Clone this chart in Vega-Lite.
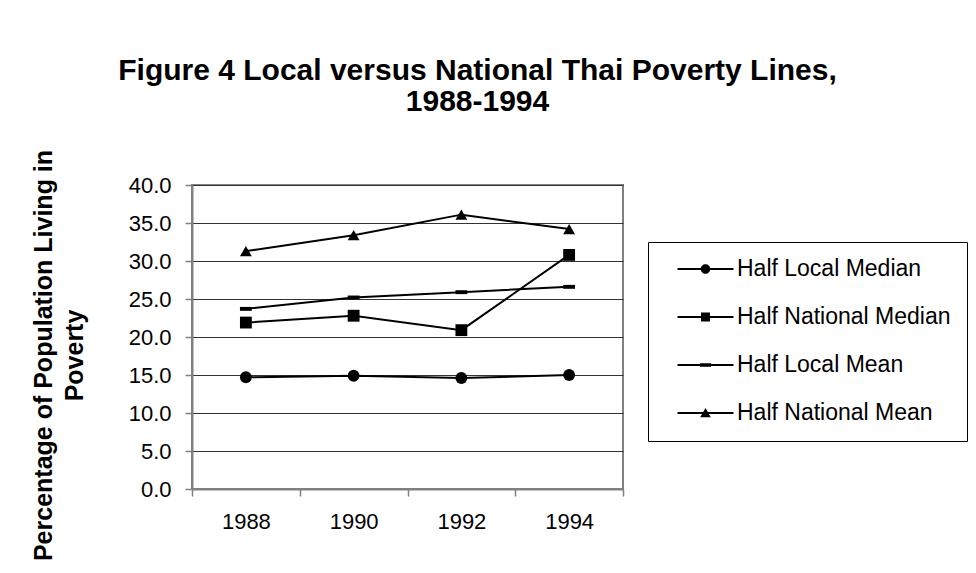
{
  "$schema": "https://vega.github.io/schema/vega-lite/v6.json",
  "width": 431,
  "height": 304,
  "autosize": {"type": "none"},
  "padding": {"left": 192, "top": 185, "right": 353, "bottom": 84},
  "background": "white",
  "title": {
    "text": ["Figure 4 Local versus National Thai Poverty Lines,", "1988-1994"],
    "font": "Liberation Sans",
    "fontSize": 30,
    "fontWeight": "bold",
    "color": "black",
    "anchor": "middle",
    "frame": "group",
    "dx": 70,
    "lineHeight": 31,
    "offset": 32
  },
  "data": {
    "values": [
      {"year": "1988", "series": "Half Local Median", "value": 14.7},
      {"year": "1990", "series": "Half Local Median", "value": 14.9},
      {"year": "1992", "series": "Half Local Median", "value": 14.6},
      {"year": "1994", "series": "Half Local Median", "value": 15.0},
      {"year": "1988", "series": "Half National Median", "value": 21.9},
      {"year": "1990", "series": "Half National Median", "value": 22.8},
      {"year": "1992", "series": "Half National Median", "value": 20.9},
      {"year": "1994", "series": "Half National Median", "value": 30.8},
      {"year": "1988", "series": "Half Local Mean", "value": 23.7},
      {"year": "1990", "series": "Half Local Mean", "value": 25.2},
      {"year": "1992", "series": "Half Local Mean", "value": 25.9},
      {"year": "1994", "series": "Half Local Mean", "value": 26.6},
      {"year": "1988", "series": "Half National Mean", "value": 31.3},
      {"year": "1990", "series": "Half National Mean", "value": 33.4},
      {"year": "1992", "series": "Half National Mean", "value": 36.1},
      {"year": "1994", "series": "Half National Mean", "value": 34.2}
    ]
  },
  "encoding": {
    "x": {
      "field": "year",
      "type": "ordinal",
      "scale": {"type": "band", "paddingInner": 0, "paddingOuter": 0},
      "axis": {
        "title": null,
        "labelAngle": 0,
        "tickBand": "extent",
        "grid": false,
        "domainColor": "#808080",
        "domainWidth": 2,
        "tickColor": "#808080",
        "tickWidth": 1.5,
        "tickSize": 7,
        "labelPadding": 15,
        "labelFont": "Liberation Sans",
        "labelFontSize": 22,
        "labelColor": "black"
      }
    },
    "y": {
      "field": "value",
      "type": "quantitative",
      "scale": {"domain": [0, 40], "nice": false, "zero": true},
      "axis": {
        "title": ["Percentage of Population Living in", "Poverty"],
        "titleFont": "Liberation Sans",
        "titleFontSize": 25,
        "titleFontWeight": "bold",
        "titleColor": "black",
        "titleLineHeight": 31,
        "titleX": -136,
        "titleY": 170,
        "values": [0, 5, 10, 15, 20, 25, 30, 35, 40],
        "format": ".1f",
        "grid": true,
        "gridColor": "#333333",
        "gridWidth": 1,
        "domainColor": "#808080",
        "domainWidth": 2,
        "tickColor": "#808080",
        "tickWidth": 1.5,
        "tickSize": 7,
        "labelPadding": 14,
        "labelFont": "Liberation Sans",
        "labelFontSize": 22,
        "labelColor": "black"
      }
    }
  },
  "layer": [
    {
      "mark": {"type": "line", "color": "black", "strokeWidth": 2},
      "encoding": {"detail": {"field": "series", "type": "nominal"}}
    },
    {
      "mark": {"type": "point", "filled": true, "color": "black", "opacity": 1, "size": 140},
      "encoding": {
        "shape": {
          "field": "series",
          "type": "nominal",
          "scale": {
            "domain": ["Half Local Median", "Half National Median", "Half Local Mean", "Half National Mean"],
            "range": ["circle", "square", "M-1,-0.33H1V0.33H-1Z", "triangle-up"]
          },
          "legend": null
        }
      }
    },
    {
      "mark": {"type": "point", "filled": true, "fill": "black", "stroke": "black", "strokeWidth": 1, "opacity": 1, "size": 0},
      "encoding": {
        "shape": {
          "field": "series",
          "type": "nominal",
          "scale": {
            "domain": ["Half Local Median", "Half National Median", "Half Local Mean", "Half National Mean"],
            "range": [
              "M-1,-0.036H1V0.036H-1ZM0.17,0A0.17,0.17,0,1,1,-0.17,0A0.17,0.17,0,1,1,0.17,0Z",
              "M-1,-0.036H1V0.036H-1ZM-0.16,-0.16H0.16V0.16H-0.16Z",
              "M-1,-0.036H1V0.036H-1ZM-0.2,-0.06H0.2V0.06H-0.2Z",
              "M-1,-0.036H1V0.036H-1ZM0,-0.18L0.19,0.15L-0.19,0.15Z"
            ]
          },
          "legend": {
            "title": null,
            "orient": "none",
            "legendX": 456,
            "legendY": 57,
            "direction": "vertical",
            "strokeColor": "black",
            "padding": 16,
            "symbolSize": 3136,
            "symbolOffset": 13,
            "labelOffset": 3,
            "labelLimit": 400,
            "clipHeight": 22,
            "rowPadding": 25,
            "labelFont": "Liberation Sans",
            "labelFontSize": 23,
            "labelColor": "black",
            "symbolStrokeWidth": 1,
            "symbolFillColor": "black",
            "symbolStrokeColor": "black",
            "symbolOpacity": 1
          }
        }
      }
    }
  ],
  "resolve": {"scale": {"shape": "independent"}, "legend": {"shape": "independent"}},
  "config": {
    "view": {"stroke": "#808080", "strokeWidth": 2},
    "font": "Liberation Sans"
  }
}
